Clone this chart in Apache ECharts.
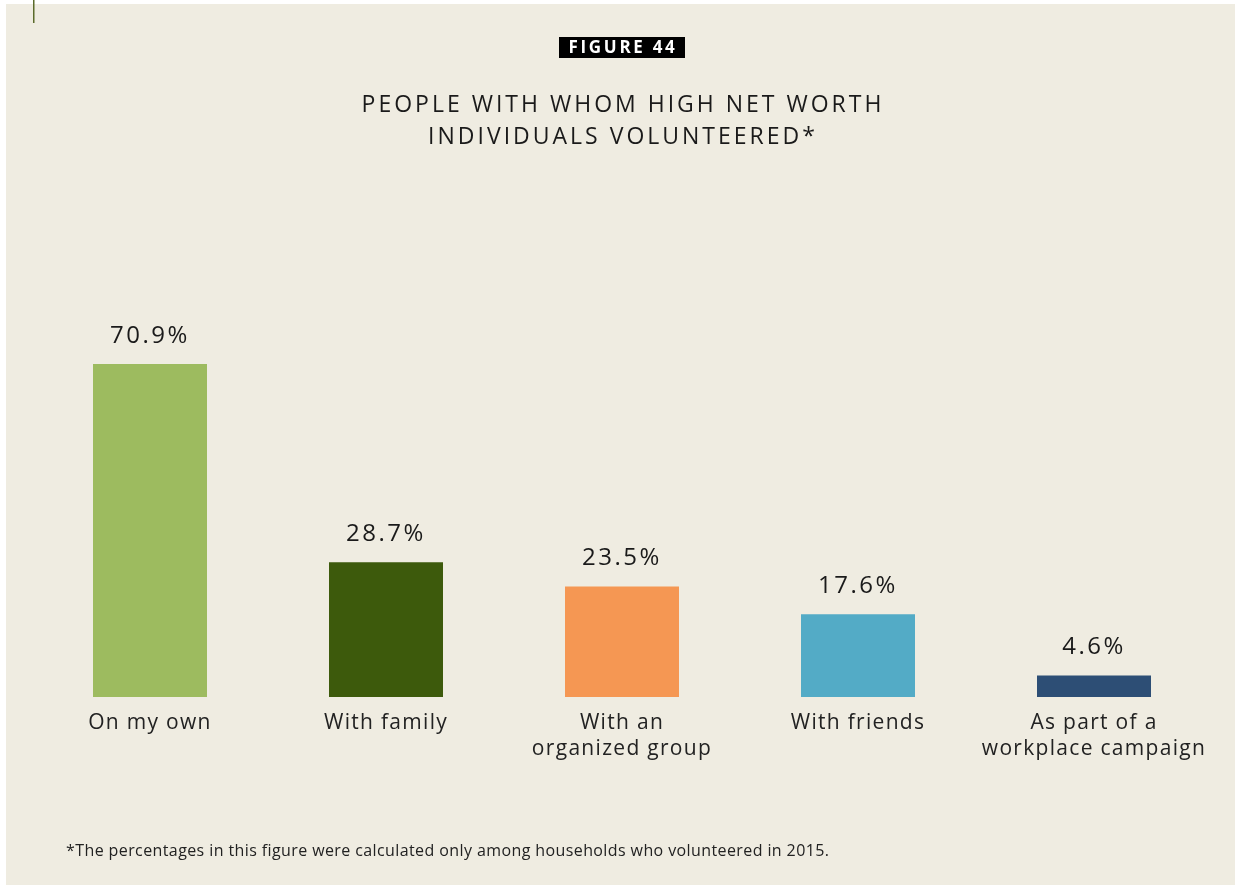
<!DOCTYPE html>
<html>
<head>
<meta charset="utf-8">
<script src="https://cdn.jsdelivr.net/npm/echarts@6/dist/echarts.min.js"></script>
<style>
html,body{margin:0;padding:0;background:#ffffff;}
#c{width:1235px;height:886px;}
</style>
</head>
<body>
<div id="c"></div>
<script>
const categories = ['On my own', 'With family', 'With an\norganized group', 'With friends', 'As part of a\nworkplace campaign'];
const values = [70.9, 28.7, 23.5, 17.6, 4.6];
const barColors = ['#9dbb5f', '#3d5a0c', '#f59753', '#53abc6', '#2d4e75'];
const titleLines = ['PEOPLE WITH WHOM HIGH NET WORTH', 'INDIVIDUALS VOLUNTEERED*'];
const figureLabel = 'FIGURE 44';
const footnote = '*The percentages in this figure were calculated only among households who volunteered in 2015.';

// letter spacing per font size (canvas native letterSpacing)
const spacing = {'23px': '3px', '24px': '2.5px', '21px': '1.3px', '17px': '2.7px', '16px': '0.4px'};
const origFill = CanvasRenderingContext2D.prototype.fillText;
CanvasRenderingContext2D.prototype.fillText = function (t, x, y, mw) {
  const m = this.font.match(/(\d+(?:\.\d+)?)px/);
  const s = m && spacing[m[1] + 'px'];
  try { this.letterSpacing = s || '0px'; } catch (e) {}
  if (mw === undefined) return origFill.call(this, t, x, y);
  return origFill.call(this, t, x, y, mw);
};

const chart = echarts.init(document.getElementById('c'), null, {renderer: 'canvas'});
const font = "'Open Sans', 'Noto Sans', sans-serif";

chart.setOption({
  animation: false,
  backgroundColor: '#ffffff',
  grid: {left: 32, right: 23, top: 227.3, bottom: 189, containLabel: false},
  xAxis: {
    type: 'category',
    data: categories,
    axisLine: {show: false},
    axisTick: {show: false},
    axisLabel: {
      interval: 0, margin: 13, color: '#222222', fontSize: 21,
      fontFamily: font, lineHeight: 26, align: 'center'
    }
  },
  yAxis: {
    type: 'value', min: 0, max: 100,
    show: false, splitLine: {show: false}
  },
  series: [{
    type: 'bar',
    barWidth: 114,
    data: values.map((v, i) => ({value: v, itemStyle: {color: barColors[i]}})),
    label: {
      show: true, position: 'top', distance: 16,
      formatter: p => p.value.toFixed(1) + '%',
      color: '#1a1a1a', fontSize: 24, fontFamily: font
    }
  }],
  graphic: [
    {type: 'rect', z: -10, silent: true, shape: {x: 6, y: 4, width: 1229, height: 881}, style: {fill: '#efece1'}},
    {type: 'rect', z: 10, shape: {x: 33, y: 0, width: 1.5, height: 23}, style: {fill: '#5b6b2b'}},
    {type: 'rect', z: 10, shape: {x: 559, y: 37, width: 126, height: 21}, style: {fill: '#000000'}},
    {type: 'text', z: 11, style: {x: 623, y: 48, text: figureLabel, fill: '#ffffff', font: "bold 17px 'Open Sans', sans-serif", textAlign: 'center', textVerticalAlign: 'middle'}},
    {type: 'text', z: 11, style: {x: 623, y: 105, text: titleLines[0], fill: '#1a1a1a', font: "normal 23px 'Open Sans', sans-serif", textAlign: 'center', textVerticalAlign: 'middle'}},
    {type: 'text', z: 11, style: {x: 623, y: 137, text: titleLines[1], fill: '#1a1a1a', font: "normal 23px 'Open Sans', sans-serif", textAlign: 'center', textVerticalAlign: 'middle'}},
    {type: 'text', z: 11, style: {x: 66, y: 851, text: footnote, fill: '#222222', font: "normal 16px 'Open Sans', sans-serif", textAlign: 'left', textVerticalAlign: 'middle'}}
  ]
});
</script>
</body>
</html>
